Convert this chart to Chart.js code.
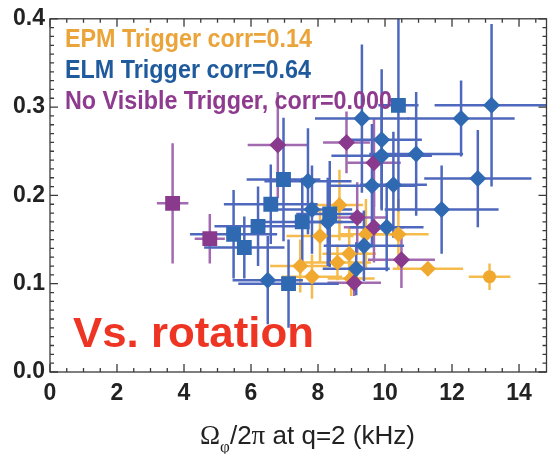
<!DOCTYPE html>
<html>
<head>
<meta charset="utf-8">
<script src="https://cdn.jsdelivr.net/npm/chart.js@4.4.1/dist/chart.umd.min.js"></script>
<style>
  html, body { margin: 0; padding: 0; background: #fff; }
  #wrap { width: 557px; height: 454px; position: relative; }
</style>
</head>
<body>
<div id="wrap"><canvas id="c" width="557" height="454"></canvas></div>
<script>
// [x (kHz), y, x error, y error]
const elmSquares = [
  [10.40, 0.302, 0.6, 0.12],
  [6.97, 0.218, 1.1, 0.07],
  [6.59, 0.190, 1.4, 0.045],
  [6.21, 0.165, 1.3, 0.045],
  [7.53, 0.170, 1.2, 0.05],
  [5.48, 0.156, 1.3, 0.05],
  [5.80, 0.141, 1.2, 0.035],
  [7.12, 0.100, 1.5, 0.05],
  [8.35, 0.179, 1.0, 0.06]
];
const elmDiamonds = [
  [9.31, 0.287, 1.4, 0.084],
  [13.18, 0.302, 1.7, 0.092],
  [12.27, 0.287, 1.6, 0.043],
  [10.93, 0.247, 1.4, 0.07],
  [12.77, 0.219, 1.6, 0.055],
  [11.69, 0.184, 1.7, 0.05],
  [10.25, 0.212, 1.0, 0.06],
  [9.90, 0.263, 1.2, 0.08],
  [9.90, 0.245, 1.5, 0.06],
  [9.61, 0.211, 1.3, 0.07],
  [7.70, 0.216, 1.3, 0.06],
  [7.82, 0.184, 1.2, 0.05],
  [8.29, 0.170, 1.0, 0.05],
  [10.05, 0.164, 1.1, 0.05],
  [9.37, 0.143, 1.2, 0.04],
  [9.14, 0.117, 1.0, 0.03],
  [6.50, 0.104, 1.05, 0.05]
];
const noTrigSquares = [
  [3.66, 0.191, 0.47, 0.068],
  [4.77, 0.151, 0.45, 0.028]
];
const noTrigDiamonds = [
  [6.80, 0.257, 0.9, 0.06],
  [8.85, 0.260, 0.7, 0.035],
  [9.67, 0.237, 0.8, 0.05],
  [9.17, 0.175, 0.9, 0.04],
  [9.67, 0.164, 0.9, 0.04],
  [10.49, 0.127, 1.0, 0.032],
  [9.08, 0.101, 0.8, 0.015]
];
const epmDiamonds = [
  [8.06, 0.154, 1.0, 0.03],
  [8.64, 0.189, 0.7, 0.04],
  [7.47, 0.120, 0.9, 0.03],
  [7.82, 0.108, 0.9, 0.025],
  [8.58, 0.124, 1.0, 0.02],
  [8.93, 0.134, 0.8, 0.03],
  [8.99, 0.106, 0.7, 0.02],
  [9.43, 0.156, 0.8, 0.04],
  [10.40, 0.156, 0.9, 0.04],
  [11.28, 0.117, 1.05, 0.008]
];
const epmCircles = [
  [13.12, 0.108, 0.62, 0.015]
];
const xTicks = [0, 2, 4, 6, 8, 10, 12, 14];
const yTicks = [0.0, 0.1, 0.2, 0.3, 0.4];
const legendLines = [
  'EPM Trigger corr=0.14',
  'ELM Trigger corr=0.64',
  'No Visible Trigger, corr=0.000'
];

const BLUE = '#2f69b2', BLUE_BAR = '#4d68bd';
const PURPLE = '#8a3a8c', PURPLE_BAR = '#a26ab0';
const GOLD = '#f0a82e', GOLD_BAR = '#f5bb4c';
const TICK_FONT = { family: "'Liberation Sans', Arial, sans-serif", size: 23, weight: 'bold' };

const pts = arr => arr.map(p => ({ x: p[0], y: p[1] }));

function series(arr, color, barColor, style, radius) {
  return {
    data: pts(arr), errs: arr, barColor,
    pointStyle: style, pointRadius: radius,
    backgroundColor: color, borderColor: color, borderWidth: 0,
    showLine: false
  };
}

// scale a text horizontally so it spans exactly w pixels
function fitText(ctx, text, x, y, w) {
  const m = ctx.measureText(text).width;
  ctx.save();
  ctx.translate(x, y);
  ctx.scale(w / m, 1);
  ctx.fillText(text, 0, 0);
  ctx.restore();
}

const errorBars = {
  id: 'errorBars',
  beforeDatasetsDraw(chart) {
    const { ctx, chartArea: a, scales: { x, y } } = chart;
    ctx.save();
    ctx.beginPath(); ctx.rect(a.left, a.top, a.width, a.height); ctx.clip();
    ctx.lineWidth = 2.5;
    chart.data.datasets.slice().reverse().forEach(ds => {
      ctx.strokeStyle = ds.barColor;
      ds.errs.forEach(p => {
        const px = x.getPixelForValue(p[0]), py = y.getPixelForValue(p[1]);
        ctx.beginPath();
        ctx.moveTo(x.getPixelForValue(p[0] - p[2]), py);
        ctx.lineTo(x.getPixelForValue(p[0] + p[2]), py);
        ctx.moveTo(px, y.getPixelForValue(p[1] - p[3]));
        ctx.lineTo(px, y.getPixelForValue(p[1] + p[3]));
        ctx.stroke();
      });
    });
    ctx.restore();
  }
};

const frame = {
  id: 'frame',
  afterDraw(chart) {
    const { ctx, chartArea: a, scales: { x, y } } = chart;
    ctx.save();
    ctx.strokeStyle = '#3a3a3a';
    ctx.lineWidth = 1.3;
    ctx.strokeRect(a.left, a.top, a.right - a.left, a.bottom - a.top);
    ctx.beginPath();
    for (let i = 0; i <= 29; i++) {
      const v = i * 0.5, px = x.getPixelForValue(v);
      if (px > a.right) break;
      const len = i % 4 === 0 ? 8 : 4;
      ctx.moveTo(px, a.bottom); ctx.lineTo(px, a.bottom - len);
      ctx.moveTo(px, a.top); ctx.lineTo(px, a.top + len);
    }
    for (let i = 0; i <= 40; i++) {
      const py = y.getPixelForValue(i / 100);
      const len = i % 10 === 0 ? 8 : 4;
      ctx.moveTo(a.left, py); ctx.lineTo(a.left + len, py);
      ctx.moveTo(a.right, py); ctx.lineTo(a.right - len, py);
    }
    ctx.stroke();
    ctx.restore();
  }
};

const annotations = {
  id: 'annotations',
  afterDatasetsDraw(chart) {
    const { ctx } = chart;
    ctx.save();
    ctx.textBaseline = 'alphabetic';
    ctx.font = "bold 25px 'Liberation Sans', Arial, sans-serif";
    const colors = ['#eaa43a', '#1f5b9c', '#8e3b8f'];
    const base = [47, 78, 109];
    const widths = [247, 246, 327];
    legendLines.forEach((t, i) => {
      ctx.fillStyle = colors[i];
      fitText(ctx, t, 65, base[i], widths[i]);
    });
    ctx.fillStyle = '#ee3524';
    ctx.font = "bold 42px 'Liberation Sans', Arial, sans-serif";
    fitText(ctx, 'Vs. rotation', 73, 347, 241);
    ctx.restore();

    // x axis title with subscript
    ctx.save();
    ctx.fillStyle = '#222';
    ctx.textBaseline = 'alphabetic';
    const parts = [
      { t: '\u03A9', f: "27px 'Liberation Serif', serif", dy: 0 },
      { t: '\u03C6', f: "17px 'Liberation Serif', serif", dy: 8 },
      { t: '/2', f: "26px 'Liberation Sans', Arial, sans-serif", dy: 0 },
      { t: '\u03C0', f: "27px 'Liberation Serif', serif", dy: 0 },
      { t: ' at q=2 (kHz)', f: "26px 'Liberation Sans', Arial, sans-serif", dy: 0 }
    ];
    let total = 0;
    parts.forEach(p => { ctx.font = p.f; p.w = ctx.measureText(p.t).width; total += p.w; });
    const sx = 215 / total;
    ctx.translate(200, 444);
    ctx.scale(sx, 1);
    let cx = 0;
    parts.forEach(p => { ctx.font = p.f; ctx.fillText(p.t, cx, p.dy); cx += p.w; });
    ctx.restore();
  }
};

new Chart(document.getElementById('c'), {
  type: 'scatter',
  data: {
    datasets: [
      series(elmSquares, BLUE, BLUE_BAR, 'rect', 10.5),
      series(elmDiamonds, BLUE, BLUE_BAR, 'rectRot', 8.5),
      series(noTrigSquares, PURPLE, PURPLE_BAR, 'rect', 10.5),
      series(noTrigDiamonds, PURPLE, PURPLE_BAR, 'rectRot', 8.5),
      series(epmDiamonds, GOLD, GOLD_BAR, 'rectRot', 8),
      series(epmCircles, GOLD, GOLD_BAR, 'circle', 6.5)
    ]
  },
  options: {
    responsive: false,
    animation: false,
    devicePixelRatio: 1,
    layout: { padding: { top: 14, right: 1, left: 0, bottom: 0 } },
    plugins: { legend: { display: false }, tooltip: { enabled: false } },
    scales: {
      x: {
        type: 'linear', min: 0, max: 14.82,
        afterBuildTicks: s => { s.ticks = xTicks.map(v => ({ value: v })); },
        afterFit: s => { s.height = 82; },
        grid: { display: false, drawTicks: false },
        border: { display: false },
        ticks: { font: TICK_FONT, color: '#222', padding: 8, maxRotation: 0, autoSkip: false,
                 callback: v => String(v) }
      },
      y: {
        type: 'linear', min: 0, max: 0.4,
        afterBuildTicks: s => { s.ticks = yTicks.map(v => ({ value: v })); },
        afterFit: s => { s.width = 50; },
        grid: { display: false, drawTicks: false },
        border: { display: false },
        ticks: { font: TICK_FONT, color: '#222', padding: 5, autoSkip: false,
                 callback: v => v.toFixed(1) }
      }
    }
  },
  plugins: [errorBars, frame, annotations]
});
</script>
</body>
</html>
